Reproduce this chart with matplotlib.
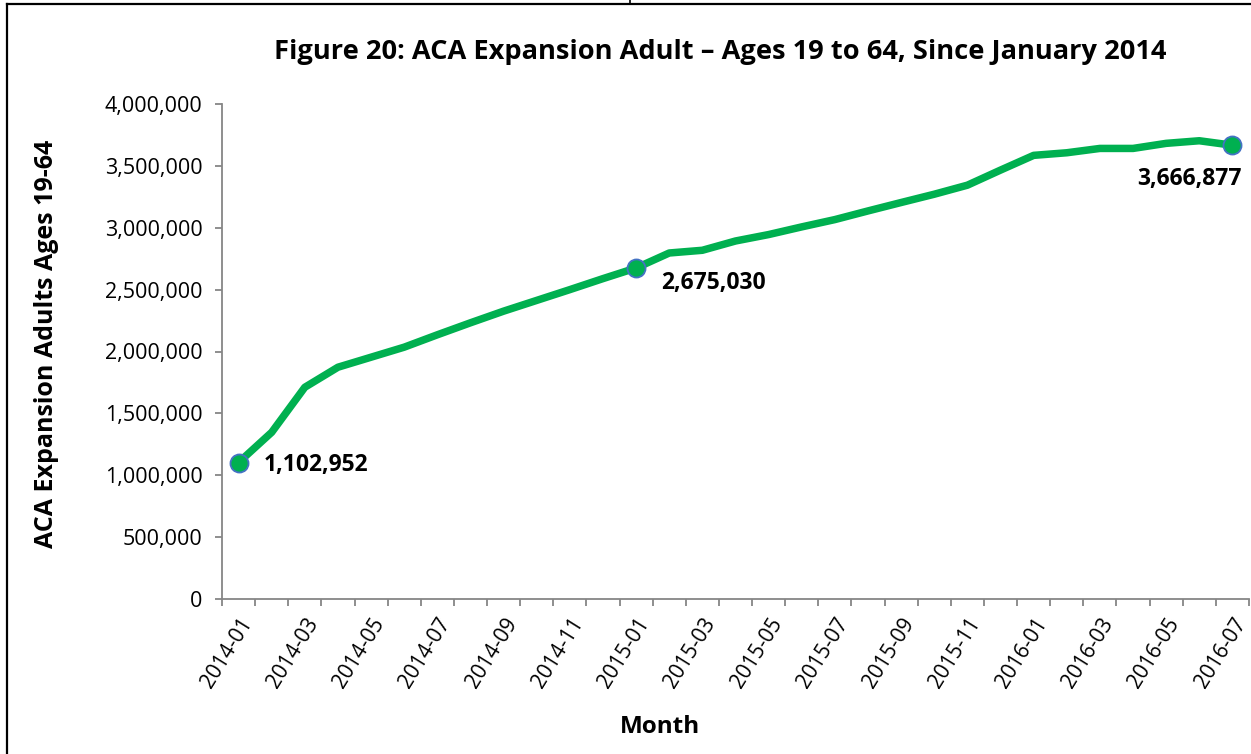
import matplotlib.pyplot as plt
from matplotlib.ticker import FuncFormatter, FixedLocator
from matplotlib.lines import Line2D

# Dados do gráfico
months = ['2014-01', '2014-02', '2014-03', '2014-04', '2014-05', '2014-06',
          '2014-07', '2014-08', '2014-09', '2014-10', '2014-11', '2014-12',
          '2015-01', '2015-02', '2015-03', '2015-04', '2015-05', '2015-06',
          '2015-07', '2015-08', '2015-09', '2015-10', '2015-11', '2015-12',
          '2016-01', '2016-02', '2016-03', '2016-04', '2016-05', '2016-06',
          '2016-07']
adults = [1102952, 1347000, 1711000, 1873000, 1954000, 2035000,
          2135000, 2232000, 2326000, 2413000, 2500000, 2589000,
          2675030, 2796000, 2818000, 2893000, 2945000, 3007000,
          3066000, 3136000, 3204000, 3271000, 3344000, 3466000,
          3585000, 3606000, 3641000, 3641000, 3682000, 3703000,
          3666877]
marked = [0, 12, 30]
y_ticks = [0, 500000, 1000000, 1500000, 2000000, 2500000, 3000000, 3500000, 4000000]

plt.rcParams['font.family'] = ['Open Sans', 'DejaVu Sans']

fig = plt.figure(figsize=(12.51, 7.54), dpi=100)
ax = fig.add_axes([222 / 1251, 1 - 599 / 754, (1249 - 222) / 1251, (599 - 104) / 754])

x = list(range(len(months)))
green = '#00B050'
ax.plot(x, adults, color=green, linewidth=5.4, solid_joinstyle='round', zorder=3)
ax.plot([x[i] for i in marked], [adults[i] for i in marked], linestyle='none',
        marker='o', markersize=13, markerfacecolor=green, markeredgecolor='#4472C4',
        markeredgewidth=1.3, zorder=4)

# Rótulos de dados
lbl = dict(fontsize=16.5, fontweight='bold', color='black')
ax.annotate(f'{adults[0]:,}', (x[0], adults[0]), xytext=(18, -2), textcoords='offset points',
            ha='left', va='center', **lbl)
ax.annotate(f'{adults[12]:,}', (x[12], adults[12]), xytext=(18, -11), textcoords='offset points',
            ha='left', va='center', **lbl)
ax.annotate(f'{adults[30]:,}', (x[30], adults[30]), xytext=(7, -24), textcoords='offset points',
            ha='right', va='center', **lbl)

ax.set_xlim(-0.5, len(months) - 0.5)
ax.set_ylim(0, 4000000)
ax.yaxis.set_major_locator(FixedLocator(y_ticks))
ax.yaxis.set_major_formatter(FuncFormatter(lambda v, p: f'{int(v):,}'))

ax.set_xticks([i - 0.5 for i in range(len(months) + 1)])
ax.set_xticklabels([])
ax.set_xticks(x[::2], minor=True)
ax.set_xticklabels(months[::2], minor=True, rotation=58, ha='right', va='top',
                   rotation_mode='anchor', fontsize=15)
ax.tick_params(axis='x', which='minor', length=0, pad=11)
ax.tick_params(axis='x', which='major', length=5, color='#868686', width=1.3, direction='out')
ax.tick_params(axis='y', length=5, color='#868686', width=1.3, labelsize=15.5, pad=9)

for s in ['top', 'right']:
    ax.spines[s].set_visible(False)
for s in ['left', 'bottom']:
    ax.spines[s].set_color('#868686')
    ax.spines[s].set_linewidth(1.3)

fig.text(47 / 1251, 1 - 344 / 754, 'ACA Expansion Adults Ages 19-64', fontsize=18,
         fontweight='bold', rotation=90, ha='center', va='center')
fig.text(660 / 1251, 1 - 727 / 754, 'Month', fontsize=17.5, fontweight='bold',
         ha='center', va='center')
fig.text(720 / 1251, 1 - 52 / 754,
         'Figure 20: ACA Expansion Adult \u2013 Ages 19 to 64, Since January 2014',
         fontsize=19.6, fontweight='bold', ha='center', va='center')

# Bordas da tabela
fig.add_artist(Line2D([6.5 / 1251, 6.5 / 1251], [0, 1 - 3.5 / 754], color='black', linewidth=1.6))
fig.add_artist(Line2D([6.5 / 1251, 1], [1 - 3.5 / 754, 1 - 3.5 / 754], color='black', linewidth=1.6))
fig.add_artist(Line2D([630 / 1251, 630 / 1251], [1 - 3.5 / 754, 1], color='black', linewidth=1.2))

plt.savefig('out.png', dpi=100)
plt.close()
